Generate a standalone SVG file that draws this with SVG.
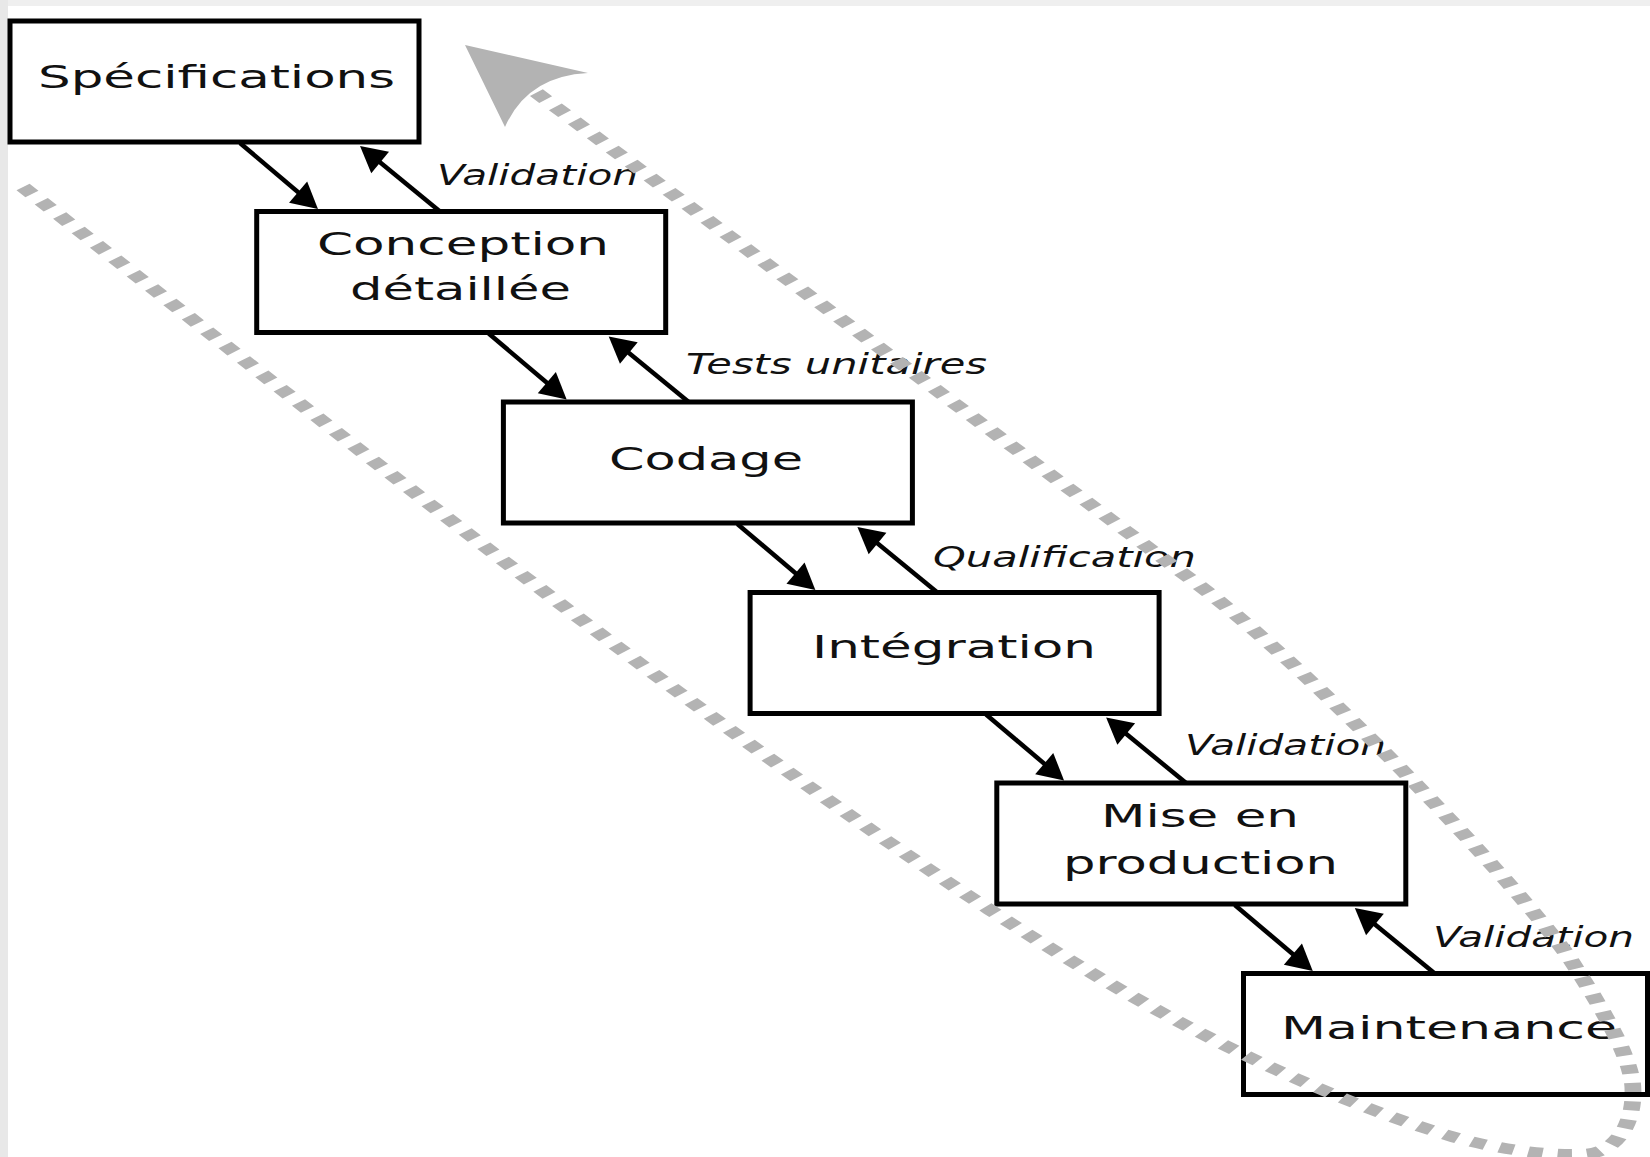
<svg xmlns="http://www.w3.org/2000/svg" width="1650" height="1157" viewBox="0 0 1650 1157">
<style>
.box{fill:#fff;stroke:#000;stroke-width:5}
.t{font-family:"DejaVu Sans","Liberation Sans",sans-serif;font-size:32px;fill:#111}
.lbl{font-family:"DejaVu Sans","Liberation Sans",sans-serif;font-size:27.5px;font-style:italic;fill:#111}
.arr{stroke:#000;stroke-width:4.5;fill:none;marker-end:url(#ah)}
.loop{fill:none;stroke:#b3b3b3;stroke-width:10.5;stroke-dasharray:9 9.4}
</style>
<defs>
<marker id="ah" markerUnits="userSpaceOnUse" orient="auto" overflow="visible" markerWidth="1" markerHeight="1"><path d="M12,0 L-14,-14 L-14,14 Z" fill="#000"/></marker>
</defs>
<rect x="0" y="0" width="1650" height="1157" fill="#fff"/>
<rect x="0" y="0" width="1650" height="6" fill="#efefef"/>
<rect x="0" y="0" width="8" height="1157" fill="#e8e8e8"/>

<g id="n-specifications"><rect class="box" x="10" y="21" width="409" height="121"/><text class="t" x="38" y="88" textLength="357" lengthAdjust="spacingAndGlyphs">Spécifications</text></g>
<g id="n-conception"><rect class="box" x="256.7" y="211.5" width="409" height="121"/><text class="t" x="317" y="255" textLength="292" lengthAdjust="spacingAndGlyphs">Conception</text><text class="t" x="350" y="300" textLength="221" lengthAdjust="spacingAndGlyphs">détaillée</text></g>
<g id="n-codage"><rect class="box" x="503.4" y="402" width="409" height="121"/><text class="t" x="609" y="470" textLength="194" lengthAdjust="spacingAndGlyphs">Codage</text></g>
<g id="n-integration"><rect class="box" x="750.1" y="592.5" width="409" height="121"/><text class="t" x="812" y="658" textLength="284" lengthAdjust="spacingAndGlyphs">Intégration</text></g>
<g id="n-production"><rect class="box" x="996.8" y="783" width="409" height="121"/><text class="t" x="1101" y="827" textLength="198" lengthAdjust="spacingAndGlyphs">Mise en</text><text class="t" x="1063" y="874" textLength="275" lengthAdjust="spacingAndGlyphs">production</text></g>
<g id="n-maintenance"><rect class="box" x="1243.5" y="973.5" width="404" height="121"/><text class="t" x="1281" y="1039" textLength="336" lengthAdjust="spacingAndGlyphs">Maintenance</text></g>

<g id="connectors">
<line class="arr" x1="240" y1="143" x2="308.8" y2="201.2"/>
<line class="arr" x1="440" y1="211.5" x2="369.3" y2="153.6"/>
<line class="arr" x1="488.7" y1="333.5" x2="557.5" y2="391.7"/>
<line class="arr" x1="688.7" y1="402" x2="618" y2="344.1"/>
<line class="arr" x1="737.4" y1="524" x2="806.2" y2="582.2"/>
<line class="arr" x1="937.4" y1="592.5" x2="866.7" y2="534.6"/>
<line class="arr" x1="986.1" y1="714.5" x2="1054.9" y2="772.7"/>
<line class="arr" x1="1186.1" y1="783" x2="1115.4" y2="725.1"/>
<line class="arr" x1="1234.8" y1="905" x2="1303.6" y2="963.2"/>
<line class="arr" x1="1434.8" y1="973.5" x2="1364.1" y2="915.6"/>
<text class="lbl" x="437" y="185" textLength="201" lengthAdjust="spacingAndGlyphs">Validation</text>
<text class="lbl" x="686" y="374" textLength="301" lengthAdjust="spacingAndGlyphs">Tests unitaires</text>
<text class="lbl" x="933" y="567" textLength="263" lengthAdjust="spacingAndGlyphs">Qualification</text>
<text class="lbl" x="1185" y="755" textLength="201" lengthAdjust="spacingAndGlyphs">Validation</text>
<text class="lbl" x="1433" y="947" textLength="201" lengthAdjust="spacingAndGlyphs">Validation</text>
<g transform="scale(1.6,1)">
<path class="loop" d="M14.4,187 C201.9,421 431.3,715 618.8,910 C712.5,1008 812.5,1091 906.3,1136 C933.8,1149 968.8,1156 989.4,1154 C1009.4,1154 1021.3,1125 1020.6,1090 C1020.6,1055 993.8,990 981.3,959 C950,886 822.5,673 747.5,583 L333.8,91"/>
</g>
<path d="M465,45 L588,73 Q527.5,76 505,127 Z" fill="#b3b3b3"/>
</g>
</svg>
